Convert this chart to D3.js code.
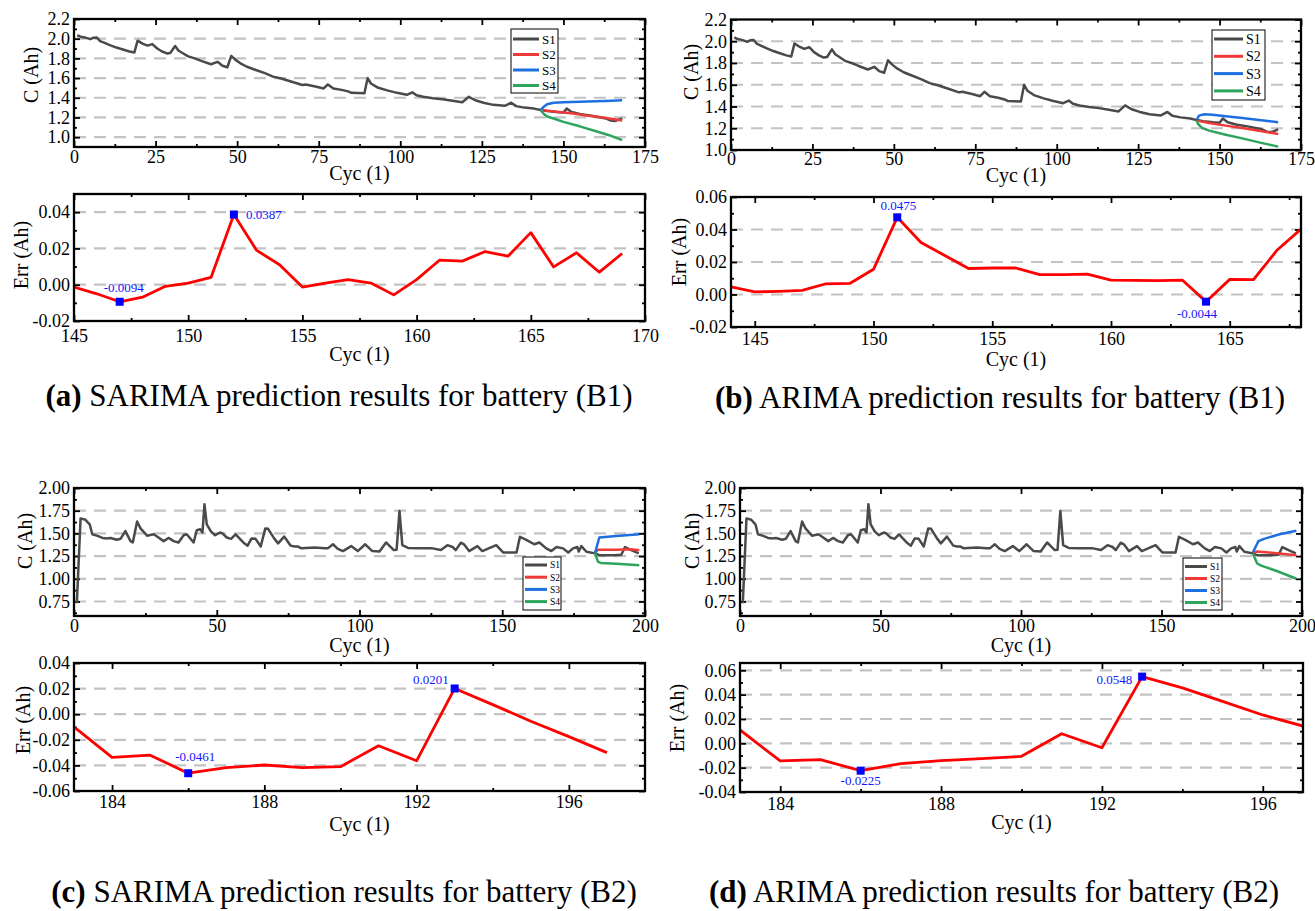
<!DOCTYPE html>
<html>
<head>
<meta charset="utf-8">
<script src="https://cdn.jsdelivr.net/npm/d3@7/dist/d3.min.js"></script>
<style>
  body { margin: 0; background: #fff; }
  svg text { font-family: "Liberation Serif", "Times New Roman", serif; }
</style>
</head>
<body>
<script>
// capacity of battery B1, [cycle, Ah]
var b1S1 = [[1,2.035],[2,2.02],[3,2.015],[4,2.006],[5,1.995],[6,2.01],[7,2.012],[8,1.975],[9,1.962],[11,1.935],
  [13,1.91],[15,1.89],[17,1.87],[18.5,1.86],[19.5,1.98],[21,1.95],[22.5,1.93],[24,1.945],[25.5,1.9],[27,1.87],
  [28.5,1.85],[29.5,1.855],[31,1.925],[32,1.88],[33.5,1.85],[35,1.82],[37,1.8],[39,1.775],[42,1.74],[44,1.765],
  [45.5,1.725],[47,1.71],[48.2,1.825],[49.5,1.785],[51,1.75],[53,1.715],[55.5,1.685],[58.5,1.65],[61,1.615],
  [63.5,1.595],[66.5,1.565],[70,1.53],[71,1.535],[74,1.515],[76.5,1.495],[77.8,1.535],[79.5,1.495],[82,1.48],
  [84,1.465],[85,1.45],[87,1.448],[89,1.445],[90,1.6],[91,1.545],[93,1.505],[96,1.475],[99,1.45],[102,1.43],
  [103.7,1.455],[105,1.425],[107,1.41],[110,1.395],[113,1.385],[116,1.37],[119,1.355],[121,1.41],[123,1.375],
  [125.5,1.35],[128.5,1.328],[132,1.318],[134,1.35],[135.5,1.315],[138,1.3],[141,1.29],[143,1.275],[145,1.265],
  [148,1.255],[150,1.25],[151,1.29],[152.5,1.255],[155,1.235],[159,1.215],[163,1.19],[164.5,1.168],[166,1.165],[168,1.19]];
// SARIMA forecasts for B1
var b1SarimaS2 = [[143,1.275],[146,1.265],[150,1.25],[153,1.24],[157,1.22],[161,1.205],[165,1.185],[168,1.17]];
var b1SarimaS3 = [[143,1.275],[144,1.31],[145,1.335],[147,1.35],[150,1.355],[155,1.36],[160,1.365],[165,1.37],[168,1.375]];
var b1SarimaS4 = [[143,1.275],[144,1.235],[145,1.21],[147,1.19],[150,1.155],[155,1.11],[160,1.06],[164,1.02],[168,0.97]];
// ARIMA forecasts for B1
var b1ArimaS2 = [[143,1.27],[146.8,1.248],[151.9,1.224],[157,1.202],[162.1,1.178],[168,1.147]];
var b1ArimaS3 = [[143,1.279],[143.7,1.316],[145.3,1.328],[147.8,1.325],[151.9,1.31],[157,1.294],[162.1,1.276],[168,1.255]];
var b1ArimaS4 = [[143,1.27],[143.4,1.239],[144.7,1.202],[146.8,1.178],[151.9,1.141],[157,1.107],[162.1,1.07],[168,1.031]];

// capacity of battery B2
var b2S1 = [[1,0.73],[2.3,1.665],[4,1.65],[5.5,1.6],[6.4,1.49],[8,1.475],[10,1.45],[11.6,1.445],[12.8,1.45],[15,1.43],
  [16.3,1.44],[18,1.525],[19.8,1.415],[20.6,1.4],[22.1,1.63],[23.3,1.555],[25.6,1.475],[27.9,1.49],[29.1,1.465],
  [31.4,1.415],[33.1,1.45],[34.9,1.415],[36.6,1.4],[38.4,1.48],[39.5,1.49],[41.9,1.4],[43,1.535],[44.2,1.545],
  [45,1.51],[45.7,1.82],[46.5,1.6],[48,1.52],[49.4,1.48],[51.2,1.51],[52,1.5],[53.5,1.455],[55,1.44],[56.6,1.49],
  [59.3,1.4],[60.8,1.365],[62.2,1.445],[63.6,1.44],[65.4,1.355],[67,1.555],[68,1.55],[70.1,1.445],[71.5,1.39],
  [73.6,1.465],[75.9,1.365],[77.3,1.355],[78.5,1.355],[79.6,1.335],[84.3,1.345],[87.8,1.335],[88.9,1.335],
  [90.7,1.38],[92.4,1.33],[94.2,1.305],[97.1,1.36],[99.4,1.305],[102,1.38],[104.5,1.305],[107,1.3],[109.3,1.4],
  [112,1.316],[113,1.32],[114,1.746],[115,1.37],[117,1.34],[121,1.335],[125.6,1.335],[128.5,1.316],[130.8,1.37],
  [132.6,1.35],[133.7,1.316],[135.5,1.397],[136.6,1.38],[138.4,1.305],[141.3,1.36],[143,1.305],[147.9,1.37],
  [150.3,1.29],[155,1.29],[156.2,1.463],[158.6,1.426],[161.2,1.38],[163,1.4],[165.4,1.335],[167.2,1.305],
  [169,1.35],[171.3,1.335],[173.1,1.29],[174.8,1.335],[176.3,1.35],[176.8,1.3],[177.7,1.36],[179.5,1.298],
  [182.5,1.28],[184,1.26],[189.4,1.26],[191.7,1.265],[193,1.35],[195.2,1.316],[197.8,1.28]];
// SARIMA forecasts for B2
var b2SarimaS2 = [[182.5,1.285],[183.5,1.32],[190,1.32],[195,1.325],[198,1.315]];
var b2SarimaS3 = [[182.5,1.285],[184,1.455],[190,1.47],[198,1.49]];
var b2SarimaS4 = [[182.5,1.285],[183.5,1.19],[184.5,1.175],[190,1.165],[198,1.15]];
// ARIMA forecasts for B2
var b2ArimaS2 = [[182.5,1.29],[184,1.3],[190,1.285],[198,1.26]];
var b2ArimaS3 = [[182.5,1.29],[184.5,1.415],[186.5,1.44],[192,1.49],[198,1.53]];
var b2ArimaS4 = [[182.5,1.28],[184,1.17],[185.5,1.145],[191.5,1.08],[198,1.0]];

// prediction errors, [cycle, Ah]
var b1SarimaErr = [[145,-0.0013],[146,-0.005],[147,-0.0094],[148,-0.0069],[149,-0.0009],[150,0.0009],[151,0.004],
  [152,0.0387],[153,0.0189],[154,0.011],[155,-0.0013],[156,0.0009],[157,0.0028],[158,0.0009],[159,-0.0056],
  [160,0.0028],[161,0.0135],[162,0.013],[163,0.0183],[164,0.0157],[165,0.0287],[166,0.0098],[167,0.0176],
  [168,0.0069],[169,0.0172]];
var b1ArimaErr = [[144,0.0047],[145,0.0016],[146,0.0019],[147,0.0025],[148,0.0066],[149,0.0068],[150,0.0155],
  [151,0.0475],[152,0.032],[153,0.024],[154,0.016],[155,0.0163],[156,0.0163],[157,0.0122],[158,0.0122],
  [159,0.0126],[160,0.0089],[161,0.0087],[162,0.0085],[163,0.0089],[164,-0.0044],[165,0.0093],[166,0.0091],
  [167,0.0274],[168,0.0402]];
var b2SarimaErr = [[183,-0.0099],[184,-0.0338],[185,-0.032],[186,-0.0461],[187,-0.0418],[188,-0.0397],[189,-0.0418],
  [190,-0.041],[191,-0.0247],[192,-0.0364],[193,0.0201],[194,0.0075],[195,-0.0055],[196,-0.0175],[197,-0.03]];
var b2ArimaErr = [[183,0.011],[184,-0.0145],[185,-0.0134],[186,-0.0225],[187,-0.0167],[188,-0.0142],[189,-0.0125],
  [190,-0.0107],[191,0.0079],[192,-0.0036],[193,0.0548],[194,0.0455],[195,0.0345],[196,0.0233],[197,0.0142]];

// marked extremes
var b1SarimaMarks = [[147,-0.0094],[152,0.0387]];
var b1ArimaMarks = [[151,0.0475],[164,-0.0044]];
var b2SarimaMarks = [[186,-0.0461],[193,0.0201]];
var b2ArimaMarks = [[186,-0.0225],[193,0.0548]];

// ticks
var b1CycTicks = [0,25,50,75,100,125,150,175];
var b1CycMinor = [12.5,37.5,62.5,87.5,112.5,137.5,162.5];
var b2CycTicks = [0,50,100,150,200];
var b2CycMinor = [25,75,125,175];
var b1CapTicks = [1.0,1.2,1.4,1.6,1.8,2.0,2.2];
var b1CapMinor = [1.1,1.3,1.5,1.7,1.9,2.1];
var b2CapTicks = [0.75,1.0,1.25,1.5,1.75,2.0];
var b2CapMinor = [0.625,0.875,1.125,1.375,1.625,1.875];
var errCycTicksA = [145,150,155,160,165,170];
var errCycTicksB = [145,150,155,160,165];
var errCycMinorAB = [147.5,152.5,157.5,162.5,167.5];
var errCycTicksCD = [184,188,192,196];
var errCycMinorCD = [186,190,194];
var errTicksA = [-0.02,0,0.02,0.04];
var errMinorA = [-0.01,0.01,0.03];
var errTicksB = [-0.02,0,0.02,0.04,0.06];
var errMinorB = [-0.01,0.01,0.03,0.05];
var errTicksC = [-0.06,-0.04,-0.02,0,0.02,0.04];
var errMinorC = [-0.05,-0.03,-0.01,0.01,0.03];
var errTicksD = [-0.04,-0.02,0,0.02,0.04,0.06];
var errMinorD = [-0.03,-0.01,0.01,0.03,0.05];

var seriesNames = ["S1","S2","S3","S4"];
var seriesColors = ["#4a4a4a","#ee3b38","#1f6fe0","#2ea55c"];

var width = 1315,
    height = 911;

var svg = d3.select("body").append("svg")
    .attr("width", width)
    .attr("height", height);

var loc = d3.formatLocale({decimal: ".", thousands: ",", grouping: [3], currency: ["", ""], minus: "-"});
var clipCount = 0;

function panel(p) {
  var x = d3.scaleLinear().domain(p.xDom).range([p.left, p.right]);
  var y = d3.scaleLinear().domain(p.yDom).range([p.bottom, p.top]);
  var g = svg.append("g");
  var id = "clip" + (clipCount++);
  g.append("clipPath").attr("id", id).append("rect")
      .attr("x", p.left).attr("y", p.top)
      .attr("width", p.right - p.left).attr("height", p.bottom - p.top);

  // dashed grid on the inner major y ticks
  var eps = (p.yDom[1] - p.yDom[0]) * 0.01;
  g.selectAll("line.grid")
      .data(p.yTicks.filter(function(v) { return v > p.yDom[0] + eps && v < p.yDom[1] - eps; }))
    .enter().append("line")
      .attr("class", "grid")
      .attr("x1", p.left).attr("x2", p.right)
      .attr("y1", function(d) { return y(d); })
      .attr("y2", function(d) { return y(d); })
      .attr("stroke", "#c3c3c3")
      .attr("stroke-width", 2.2)
      .attr("stroke-dasharray", "12,8");

  var none = function() { return ""; };
  function ax(axis, tr, vals, size, fmt, pad) {
    var a = g.append("g").attr("transform", tr)
        .call(axis.tickValues(vals).tickSize(size).tickSizeOuter(0).tickPadding(pad).tickFormat(fmt));
    a.select(".domain").remove();
    a.attr("font-size", 18).attr("font-family", null);
    a.selectAll("line").attr("stroke", "#000").attr("stroke-width", 1.8);
    a.selectAll("text").attr("fill", "#000");
  }
  ax(d3.axisBottom(x), "translate(0," + p.bottom + ")", p.xTicks, -6, p.xFmt, p.xPad);
  ax(d3.axisBottom(x), "translate(0," + p.bottom + ")", p.xMinor, -3, none, 0);
  ax(d3.axisTop(x), "translate(0," + p.top + ")", p.xTicks, -6, none, 0);
  ax(d3.axisTop(x), "translate(0," + p.top + ")", p.xMinor, -3, none, 0);
  ax(d3.axisLeft(y), "translate(" + p.left + ",0)", p.yTicks, -6, p.yFmt, 4);
  ax(d3.axisLeft(y), "translate(" + p.left + ",0)", p.yMinor, -3, none, 0);
  ax(d3.axisRight(y), "translate(" + p.right + ",0)", p.yTicks, -6, none, 0);
  ax(d3.axisRight(y), "translate(" + p.right + ",0)", p.yMinor, -3, none, 0);

  g.append("text")
      .attr("x", (p.left + p.right) / 2).attr("y", p.xTitleY)
      .attr("text-anchor", "middle").attr("font-size", 20)
      .text("Cyc (1)");
  g.append("text")
      .attr("transform", "translate(" + p.yTitleX + "," + p.yTitleY + ") rotate(-90)")
      .attr("text-anchor", "middle").attr("dy", "0.35em").attr("font-size", 20)
      .text(p.yTitle);

  var plot = g.append("g").attr("clip-path", "url(#" + id + ")");
  var line = d3.line()
      .x(function(d) { return x(d[0]); })
      .y(function(d) { return y(d[1]); });
  (p.series || []).forEach(function(s, i) {
    plot.append("path").datum(s)
        .attr("d", line)
        .attr("fill", "none")
        .attr("stroke", p.colors ? p.colors[i] : seriesColors[i])
        .attr("stroke-width", p.lineWidth || 2.5)
        .attr("stroke-linejoin", "round");
  });

  // frame
  g.append("rect")
      .attr("x", p.left).attr("y", p.top)
      .attr("width", p.right - p.left).attr("height", p.bottom - p.top)
      .attr("fill", "none").attr("stroke", "#000").attr("stroke-width", 2.3);

  return {x: x, y: y, g: g};
}

function legend(g, L) {
  var lg = g.append("g");
  lg.append("rect")
      .attr("x", L.x).attr("y", L.y).attr("width", L.w).attr("height", L.h)
      .attr("fill", "#fff").attr("stroke", "#000").attr("stroke-width", 1);
  var row = lg.selectAll("g.row").data(seriesNames).enter().append("g")
      .attr("transform", function(d, i) { return "translate(0," + (L.row0 + i * L.step) + ")"; });
  row.append("line")
      .attr("x1", L.x + 2).attr("x2", L.x + 2 + L.len)
      .attr("stroke", function(d, i) { return seriesColors[i]; })
      .attr("stroke-width", 3);
  row.append("text")
      .attr("x", L.x + 5 + L.len).attr("dy", "0.35em")
      .attr("font-size", L.font)
      .text(function(d) { return d; });
}

function marks(pan, data, offs) {
  pan.g.selectAll("rect.mk").data(data).enter().append("rect")
      .attr("class", "mk")
      .attr("x", function(d) { return pan.x(d[0]) - 4; })
      .attr("y", function(d) { return pan.y(d[1]) - 4; })
      .attr("width", 8).attr("height", 8)
      .attr("fill", "#0000ff");
  pan.g.selectAll("text.mk").data(data).enter().append("text")
      .attr("class", "mk")
      .attr("x", function(d, i) { return pan.x(d[0]) + offs[i][0]; })
      .attr("y", function(d, i) { return pan.y(d[1]) + offs[i][1]; })
      .attr("text-anchor", function(d, i) { return offs[i][2]; })
      .attr("font-size", 13)
      .attr("fill", "#1414ff")
      .text(function(d) { return loc.format(".4f")(d[1]); });
}

function caption(cx, cy, tag, rest) {
  var t = svg.append("text")
      .attr("x", cx).attr("y", cy)
      .attr("text-anchor", "middle").attr("font-size", 31);
  t.append("tspan").attr("font-weight", "bold").text(tag);
  t.append("tspan").text(" " + rest);
}

var f1 = loc.format(".1f"), f2 = loc.format(".2f"), f0 = loc.format("d");

// (a)
var aTop = panel({left: 74, right: 645, top: 19, bottom: 147, xDom: [0, 175], yDom: [0.9, 2.2],
  xTicks: b1CycTicks, xMinor: b1CycMinor, yTicks: b1CapTicks, yMinor: b1CapMinor, xFmt: f0, yFmt: f1, xPad: 3,
  xTitleY: 180, yTitleX: 31, yTitleY: 75, yTitle: "C (Ah)",
  series: [b1S1, b1SarimaS2, b1SarimaS3, b1SarimaS4]});
legend(aTop.g, {x: 511, y: 29, w: 47, h: 64, row0: 39, step: 15.5, len: 26, font: 13});
var aErr = panel({left: 74, right: 645, top: 194, bottom: 321, xDom: [145, 170], yDom: [-0.02, 0.05],
  xTicks: errCycTicksA, xMinor: errCycMinorAB, yTicks: errTicksA, yMinor: errMinorA, xFmt: f0, yFmt: f2, xPad: 8,
  xTitleY: 361, yTitleX: 21, yTitleY: 255, yTitle: "Err (Ah)",
  series: [b1SarimaErr], colors: ["#ff0000"], lineWidth: 2.8});
marks(aErr, b1SarimaMarks, [[4, -10, "middle"], [12, 4.5, "start"]]);
caption(339, 406, "(a)", "SARIMA prediction results for battery (B1)");

// (b)
var bTop = panel({left: 731, right: 1301, top: 19.5, bottom: 150, xDom: [0, 175], yDom: [1.0, 2.2],
  xTicks: b1CycTicks, xMinor: b1CycMinor, yTicks: b1CapTicks, yMinor: b1CapMinor, xFmt: f0, yFmt: f1, xPad: 2,
  xTitleY: 182, yTitleX: 691, yTitleY: 72, yTitle: "C (Ah)",
  series: [b1S1, b1ArimaS2, b1ArimaS3, b1ArimaS4]});
legend(bTop.g, {x: 1212, y: 30, w: 53, h: 70, row0: 39, step: 17.3, len: 29, font: 14});
var bErr = panel({left: 731, right: 1301, top: 197, bottom: 327, xDom: [144, 168], yDom: [-0.02, 0.06],
  xTicks: errCycTicksB, xMinor: errCycMinorAB, yTicks: errTicksB, yMinor: errMinorB, xFmt: f0, yFmt: f2, xPad: 5,
  xTitleY: 366, yTitleX: 679, yTitleY: 252, yTitle: "Err (Ah)",
  series: [b1ArimaErr], colors: ["#ff0000"], lineWidth: 2.8});
marks(bErr, b1ArimaMarks, [[1, -7, "middle"], [-9, 16, "middle"]]);
caption(1000, 408, "(b)", "ARIMA prediction results for battery (B1)");

// (c)
var cTop = panel({left: 74, right: 645, top: 488, bottom: 616, xDom: [0, 200], yDom: [0.59, 2.0],
  xTicks: b2CycTicks, xMinor: b2CycMinor, yTicks: b2CapTicks, yMinor: b2CapMinor, xFmt: f0, yFmt: f2, xPad: 3,
  xTitleY: 652, yTitleX: 25, yTitleY: 541, yTitle: "C (Ah)",
  series: [b2S1, b2SarimaS2, b2SarimaS3, b2SarimaS4]});
legend(cTop.g, {x: 523, y: 557, w: 38, h: 53, row0: 565, step: 12.2, len: 22, font: 9.5});
var cErr = panel({left: 74, right: 645, top: 663, bottom: 791, xDom: [183, 198], yDom: [-0.06, 0.04],
  xTicks: errCycTicksCD, xMinor: errCycMinorCD, yTicks: errTicksC, yMinor: errMinorC, xFmt: f0, yFmt: f2, xPad: 4,
  xTitleY: 831, yTitleX: 23, yTitleY: 720, yTitle: "Err (Ah)",
  series: [b2SarimaErr], colors: ["#ff0000"], lineWidth: 2.8});
marks(cErr, b2SarimaMarks, [[7, -12, "middle"], [-6, -4.5, "end"]]);
caption(344, 902, "(c)", "SARIMA prediction results for battery (B2)");

// (d)
var dTop = panel({left: 740, right: 1302, top: 488, bottom: 616, xDom: [0, 200], yDom: [0.59, 2.0],
  xTicks: b2CycTicks, xMinor: b2CycMinor, yTicks: b2CapTicks, yMinor: b2CapMinor, xFmt: f0, yFmt: f2, xPad: 3,
  xTitleY: 652, yTitleX: 692, yTitleY: 541, yTitle: "C (Ah)",
  series: [b2S1, b2ArimaS2, b2ArimaS3, b2ArimaS4]});
legend(dTop.g, {x: 1183, y: 558, w: 39, h: 52, row0: 566.5, step: 12, len: 22, font: 9.5});
var dErr = panel({left: 740, right: 1303, top: 663, bottom: 792, xDom: [183, 197], yDom: [-0.04, 0.066],
  xTicks: errCycTicksCD, xMinor: errCycMinorCD, yTicks: errTicksD, yMinor: errMinorD, xFmt: f0, yFmt: f2, xPad: 5,
  xTitleY: 829, yTitleX: 677, yTitleY: 718, yTitle: "Err (Ah)",
  series: [b2ArimaErr], colors: ["#ff0000"], lineWidth: 2.8});
marks(dErr, b2ArimaMarks, [[0, 14.5, "middle"], [-10, 7.5, "end"]]);
caption(994, 902, "(d)", "ARIMA prediction results for battery (B2)");
</script>
</body>
</html>
